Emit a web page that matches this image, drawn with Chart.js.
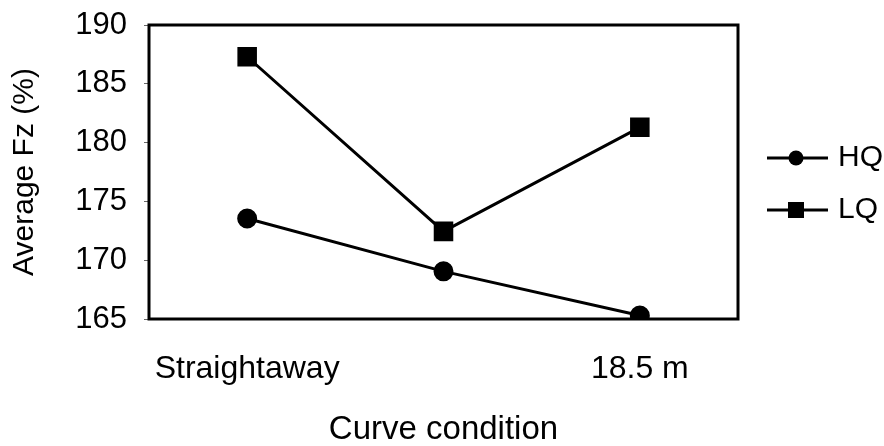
<!DOCTYPE html>
<html>
<head>
<meta charset="utf-8">
<script src="https://cdn.jsdelivr.net/npm/chart.js@4.4.1/dist/chart.umd.min.js"></script>
<style>
  html, body { margin: 0; padding: 0; background: #fff; }
  #wrap { width: 884px; height: 446px; }
</style>
</head>
<body>
<div id="wrap"><canvas id="c" width="884" height="446"></canvas></div>
<script>
// Curve conditions on the x axis (middle condition carries no label)
const categories = ['Straightaway', '', '18.5 m'];
// Average vertical force per condition, percent
const hqValues = [173.55, 169.05, 165.3];
const lqValues = [187.3, 172.45, 181.3];
const yTicks = [165, 170, 175, 180, 185, 190];

const FONT = "'Liberation Sans', Arial, sans-serif";

// Legend symbol: short line with the series marker in its middle
function legendSymbol(shape) {
  const cv = document.createElement('canvas');
  cv.width = 64; cv.height = 20;
  const g = cv.getContext('2d');
  g.strokeStyle = '#000';
  g.lineWidth = 3;
  g.beginPath(); g.moveTo(2, 10); g.lineTo(63, 10); g.stroke();
  g.fillStyle = '#000';
  if (shape === 'circle') {
    g.beginPath(); g.arc(31, 10, 7.5, 0, Math.PI * 2); g.fill();
  } else {
    g.fillRect(23, 2, 16, 16);
  }
  return cv;
}
const symbols = { HQ: legendSymbol('circle'), LQ: legendSymbol('rect') };

// Box around the plotting area
const frame = {
  id: 'frame',
  afterDatasetsDraw(chart) {
    const a = chart.chartArea, ctx = chart.ctx;
    ctx.save();
    ctx.strokeStyle = '#000';
    ctx.lineWidth = 3;
    ctx.strokeRect(a.left, a.top, a.right - a.left, a.bottom - a.top);
    ctx.restore();
  }
};

// Place the legend block next to the plot, level with its upper half
const legendPlace = {
  id: 'legendPlace',
  afterLayout(chart) {
    const lg = chart.legend;
    if (!lg) return;
    const dx = 749 - lg.left, dy = 121 - lg.top;
    lg.left += dx; lg.right += dx;
    lg.top += dy; lg.bottom += dy;
  }
};

new Chart(document.getElementById('c'), {
  type: 'line',
  data: {
    labels: categories,
    datasets: [
      {
        label: 'HQ', data: hqValues,
        borderColor: '#000', backgroundColor: '#000', borderWidth: 3,
        pointStyle: 'circle', pointRadius: 8.5, pointHoverRadius: 8.5,
        tension: 0
      },
      {
        label: 'LQ', data: lqValues,
        borderColor: '#000', backgroundColor: '#000', borderWidth: 3,
        pointStyle: 'rect', pointRadius: 11.7, pointHoverRadius: 11.7,
        tension: 0
      }
    ]
  },
  options: {
    responsive: false,
    animation: false,
    devicePixelRatio: 1,
    layout: { padding: { top: 25, left: 0, right: 2, bottom: 0 } },
    plugins: {
      tooltip: { enabled: false },
      legend: {
        position: 'right',
        align: 'start',
        labels: {
          color: '#000',
          font: { family: FONT, size: 30 },
          usePointStyle: true,
          pointStyleWidth: 52,
          boxHeight: 20,
          padding: 22,
          generateLabels(chart) {
            return chart.data.datasets.map((d, i) => ({
              text: d.label,
              pointStyle: symbols[d.label],
              fillStyle: '#000', strokeStyle: '#000', lineWidth: 0,
              fontColor: '#000',
              datasetIndex: i, hidden: false
            }));
          }
        }
      }
    },
    scales: {
      x: {
        offset: true,
        grid: { display: false, drawTicks: false },
        border: { display: false },
        ticks: { color: '#000', font: { family: FONT, size: 32, lineHeight: 1 }, padding: 34, maxRotation: 0, autoSkip: false },
        title: { display: true, text: 'Curve condition', color: '#000', font: { family: FONT, size: 33, lineHeight: 1 }, padding: { top: 28, bottom: 0 } },
        afterFit(s) { s.height = 127; s.paddingLeft = 0; s.paddingRight = 0; }
      },
      y: {
        min: 165, max: 190,
        afterBuildTicks(axis) { axis.ticks = yTicks.map(v => ({ value: v })); },
        grid: { drawOnChartArea: false, tickLength: 5, color: '#666', lineWidth: 1 },
        border: { display: false },
        ticks: { color: '#000', font: { family: FONT, size: 31 }, padding: 17 },
        title: { display: true, text: 'Average Fz (%)', color: '#000', font: { family: FONT, size: 30 }, padding: { top: 7, bottom: 0 } },
        afterFit(s) { s.width = 149; s.paddingTop = 0; s.paddingBottom = 0; }
      }
    }
  },
  plugins: [frame, legendPlace]
});
</script>
</body>
</html>
